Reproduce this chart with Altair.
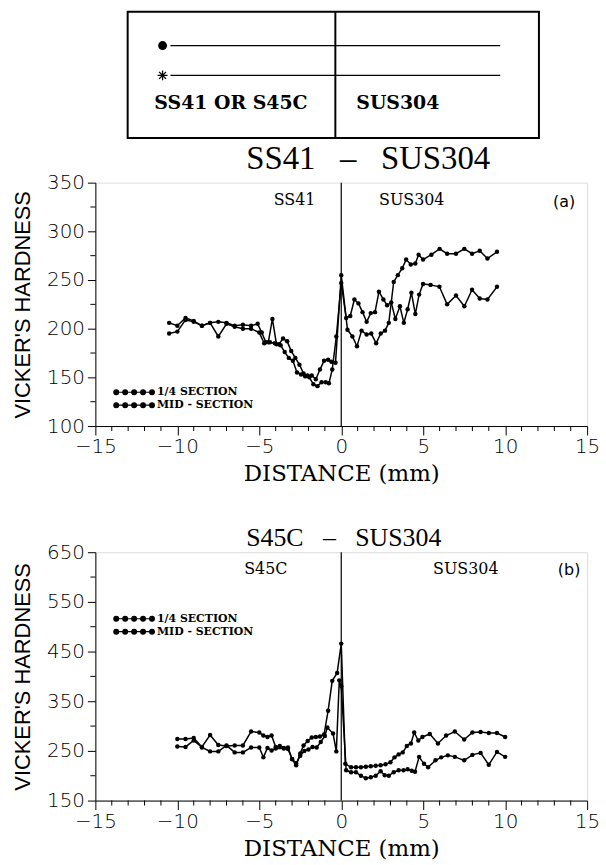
import altair as alt
import pandas as pd

SERIES = ["1/4 SECTION", "MID - SECTION"]

# ---------------- panel (a): SS41 - SUS304 ----------------
a_quarter_x = [-10.5, -10.0, -9.5, -9.0, -8.5, -8.0, -7.5, -7.0, -6.5, -6.0, -5.5, -5.1,
               -4.85, -4.6, -4.35, -4.05, -3.8, -3.55, -3.3, -3.05, -2.8, -2.55, -2.3,
               -2.05, -1.8, -1.55, -1.3, -1.05, -0.8, -0.6, -0.35, 0.0,
               0.38, 0.68, 0.96, 1.24, 1.55, 1.83, 2.13, 2.41, 2.67, 2.9, 3.2, 3.45,
               3.72, 3.96, 4.24, 4.52, 4.72, 4.99, 5.5, 6.0, 6.46, 7.0, 7.51, 7.98,
               8.45, 8.92, 9.5]
a_quarter_y = [206, 203, 211, 208, 203, 206, 207, 206, 203, 204, 203, 205,
               196, 186, 186, 185, 184, 190, 187, 177, 170, 163, 154,
               152, 152, 148, 158, 167, 168, 166, 165, 255,
               199, 192, 182, 198, 194, 195, 185, 195, 198, 206, 248, 255,
               262, 271, 266, 267, 276, 271, 276, 282, 277, 277, 282, 277,
               280, 272, 279]
a_mid_x = [-10.5, -10.0, -9.5, -9.0, -8.5, -8.0, -7.5, -7.0, -6.5, -6.0, -5.5, -5.0,
           -4.7, -4.45, -4.2, -3.95, -3.7, -3.45, -3.2, -2.95, -2.7, -2.45, -2.2,
           -1.95, -1.7, -1.45, -1.2, -0.95, -0.75, -0.55, -0.3, 0.0,
           0.3, 0.55, 0.8, 1.05, 1.3, 1.55, 1.8, 2.06, 2.3, 2.57, 2.8, 3.05,
           3.3, 3.58, 3.82, 4.05, 4.28, 4.52, 4.75, 4.99, 5.45, 5.99, 6.46, 7.0,
           7.51, 7.98, 8.45, 8.92, 9.5]
a_mid_y = [195, 197, 209, 207, 203, 206, 192, 205, 202, 200, 200, 196,
           185, 186, 210, 184, 183, 176, 170, 167, 155, 153, 151,
           150, 143, 141, 145, 145, 144, 158, 192, 247,
           211, 213, 230, 226, 217, 207, 216, 217, 238, 230, 224, 227,
           210, 223, 206, 220, 237, 215, 235, 246, 245, 243, 225, 234,
           223, 240, 231, 230, 243]

# ---------------- panel (b): S45C - SUS304 ----------------
b_quarter_x = [-10.0, -9.5, -9.0, -8.5, -8.0, -7.5, -7.0, -6.5, -6.0, -5.5, -5.0, -4.75,
               -4.5, -4.25, -4.0, -3.75, -3.5, -3.25, -3.0, -2.75, -2.5, -2.3, -2.05, -1.8,
               -1.55, -1.3, -1.05, -0.8, -0.55, -0.25, 0.0,
               0.25, 0.6, 0.9, 1.2, 1.5, 1.8, 2.1, 2.4, 2.7, 3.0, 3.25, 3.5,
               3.75, 4.0, 4.25, 4.45, 4.7, 4.95, 5.4, 5.9, 6.4, 6.93, 7.5, 8.0,
               8.5, 9.0, 9.5, 10.0]
b_quarter_y = [274, 274, 276, 258, 282, 262, 260, 261, 261, 289, 287, 281,
               278, 281, 258, 260, 256, 257, 233, 221, 245, 261, 270, 277,
               278, 279, 283, 331, 391, 407, 466,
               224, 217, 217, 217, 218, 219, 220, 221, 223, 227, 237, 243,
               247, 260, 265, 287, 271, 278, 284, 265, 281, 289, 273, 287,
               288, 286, 286, 278]
b_mid_x = [-10.0, -9.5, -9.0, -8.5, -8.0, -7.5, -7.0, -6.5, -6.0, -5.5, -5.0, -4.75,
           -4.5, -4.25, -4.0, -3.5, -3.25, -3.0, -2.75, -2.5, -2.25, -2.0, -1.75, -1.5,
           -1.25, -1.0, -0.85, -0.5, -0.3, -0.12, 0.0,
           0.3, 0.6, 0.9, 1.2, 1.5, 1.8, 2.1, 2.4, 2.65, 2.9, 3.2, 3.5,
           3.8, 4.05, 4.3, 4.5, 4.75, 5.05, 5.3, 5.75, 6.1, 6.5, 6.93, 7.5,
           8.0, 8.5, 9.0, 9.5, 10.0]
b_mid_y = [259, 258, 271, 257, 249, 249, 261, 247, 247, 257, 257, 237,
           256, 251, 255, 255, 254, 234, 225, 240, 250, 253, 258, 257,
           268, 280, 297, 285, 249, 392, 380,
           211, 207, 207, 200, 195, 197, 200, 209, 201, 200, 207, 211,
           211, 213, 210, 208, 238, 224, 217, 231, 237, 241, 238, 231,
           242, 246, 222, 248, 238]

# ticks
x_major = list(range(-15, 16, 5))
x_minor = [v for v in range(-15, 16) if v % 5 != 0]
a_y_major = list(range(100, 351, 50))
a_y_minor = list(range(125, 350, 50))
b_y_major = list(range(150, 651, 100))
b_y_minor = list(range(200, 651, 100))

# in-panel annotations
a_note_text = ["SS41", "SUS304"]
a_note_x = [-2.85, 4.3]
a_note_y = [332, 332]
b_note_text = ["S45C", "SUS304"]
b_note_x = [-4.6, 7.6]
b_note_y = [617, 617]
tag_text = ["(a)", "(b)"]
tag_x = [13.6, 13.9]
tag_y = [330, 615]

# titles (wide gaps kept with en-space + no-break space)
GAP = "\u2002\u00a0"
a_title = f"SS41{GAP}\u2013{GAP[::-1]}SUS304"
b_title = f"S45C{GAP}\u2013{GAP[::-1]}SUS304"

# schematic (specimen sketch) labels
sketch_text = ["SS41 OR S45C", "SUS304"]

# ---------------- helpers ----------------
SANS = "DejaVu Sans"
SERIF = "Liberation Serif"


def dotted_path():
    r = 0.4
    p = "M-1,0L5,0"
    for c in [-1, 0.5, 2, 3.5, 5]:
        p += f"M{c - r},0A{r},{r} 0 1,0 {c + r},0A{r},{r} 0 1,0 {c - r},0Z"
    return p


def series_frame(qx, qy, mx, my):
    d1 = pd.DataFrame({"x": qx, "y": qy, "s": SERIES[0]})
    d2 = pd.DataFrame({"x": mx, "y": my, "s": SERIES[1]})
    return pd.concat([d1, d2], ignore_index=True)


def panel(df, ydom, y_major, y_minor, title_text, title_size, title_dx, title_offset,
          notes, tag, legend_y, height):
    xs = alt.Scale(domain=[-15, 15], nice=False)
    ys = alt.Scale(domain=ydom, nice=False, zero=False)
    x_enc = alt.X(
        "x:Q", scale=xs,
        axis=alt.Axis(
            values=x_major, tickSize=9, labelFlush=False, labelOverlap=False, grid=False,
            labelFont=SANS, labelFontSize=20, labelFontWeight=300, labelColor="black",
            labelPadding=2, domainColor="black", tickColor="black",
            title="DISTANCE (mm)", titleFont="DejaVu Serif", titleFontSize=23,
            titleFontWeight="normal", titleColor="black", titlePadding=6,
        ),
    )
    y_enc = alt.Y(
        "y:Q", scale=ys,
        axis=alt.Axis(
            values=y_major, tickSize=8, labelFlush=False, labelOverlap=False, grid=False,
            labelFont=SANS, labelFontSize=20, labelFontWeight=300, labelColor="black",
            labelPadding=3, domainColor="black", tickColor="black",
            title="VICKER'S HARDNESS", titleFont="Liberation Sans", titleFontSize=22,
            titleFontWeight="normal", titleColor="black", titlePadding=12,
        ),
    )
    lines = alt.Chart(df).mark_line(
        strokeWidth=1.5, point=alt.OverlayMarkDef(filled=True, size=20)
    ).encode(
        x=x_enc,
        y=y_enc,
        color=alt.Color(
            "s:N",
            scale=alt.Scale(domain=SERIES, range=["black", "black"]),
            legend=alt.Legend(
                title=None, orient="none", legendX=20, legendY=legend_y,
                direction="vertical", symbolType=dotted_path(), symbolSize=144,
                symbolStrokeWidth=1.2, symbolFillColor="black", symbolStrokeColor="black",
                labelFont="DejaVu Serif", labelFontWeight="bold", labelFontSize=11,
                labelColor="black", labelOffset=28, rowPadding=1, padding=0,
            ),
        ),
    )
    # minor ticks (unlabelled) on both axes
    xm_df = pd.DataFrame({"x": x_minor, "y": [ydom[0]] * len(x_minor)})
    xminor = alt.Chart(xm_df).mark_tick(
        orient="vertical", size=5, thickness=1, color="black", yOffset=2.5, opacity=1
    ).encode(x=alt.X("x:Q", scale=xs), y=alt.Y("y:Q", scale=ys))
    ym_df = pd.DataFrame({"y": y_minor, "x": [-15] * len(y_minor)})
    yminor = alt.Chart(ym_df).mark_tick(
        orient="horizontal", size=5, thickness=1, color="black", xOffset=-2.5, opacity=1
    ).encode(x=alt.X("x:Q", scale=xs), y=alt.Y("y:Q", scale=ys))
    zero = alt.Chart(pd.DataFrame({"x": [0]})).mark_rule(
        color="black", strokeWidth=1.2
    ).encode(x="x:Q")
    note_df = pd.DataFrame({"x": notes[0], "y": notes[1], "t": notes[2]})
    note = alt.Chart(note_df).mark_text(
        font="DejaVu Serif", fontSize=16, color="black", baseline="middle"
    ).encode(x="x:Q", y="y:Q", text="t:N")
    tag_df = pd.DataFrame({"x": [tag[0]], "y": [tag[1]], "t": [tag[2]]})
    tagm = alt.Chart(tag_df).mark_text(
        font=SANS, fontSize=16, color="black", baseline="middle"
    ).encode(x="x:Q", y="y:Q", text="t:N")
    return alt.layer(lines, zero, xminor, yminor, note, tagm).properties(
        width=495, height=height,
        title=alt.TitleParams(
            title_text, font=SERIF, fontSize=title_size, fontWeight="normal",
            color="black", anchor="start", dx=title_dx, offset=title_offset,
        ),
    )


# ---------------- specimen sketch ----------------
# sketch units: x shares the [-15, 15] distance scale, y counts downward
frame_df = pd.DataFrame({"x": [-13.03], "x2": [12.06], "y": [0], "y2": [127]})
divider_df = pd.DataFrame({"x": [-0.36], "y": [0], "y2": [127]})
trace_df = pd.DataFrame({"x": [-10.42, -10.42], "x2": [9.7, 9.7], "y": [34, 64]})
mark_df = pd.DataFrame({"x": [-10.9, -10.9], "y": [34, 64], "k": ["dot", "star"]})
text_df = pd.DataFrame({"x": [-6.73, 3.45], "y": [92, 92], "t": sketch_text})

sx = alt.X("x:Q", scale=alt.Scale(domain=[-15, 15], nice=False), axis=None)
sy = alt.Y("y:Q", scale=alt.Scale(domain=[0, 45], reverse=True, nice=False, zero=False), axis=None)

frame = alt.Chart(frame_df).mark_rect(
    fill="white", fillOpacity=0, stroke="black", strokeWidth=2
).encode(x=sx, x2="x2:Q", y=sy, y2="y2:Q")
divider = alt.Chart(divider_df).mark_rule(color="black", strokeWidth=2).encode(
    x=sx, y=sy, y2="y2:Q")
traces = alt.Chart(trace_df).mark_rule(color="black", strokeWidth=1.3).encode(
    x=sx, x2="x2:Q", y=sy)
dot = alt.Chart(mark_df[mark_df.k == "dot"]).mark_point(
    shape="circle", filled=True, size=80, color="black", opacity=1).encode(x=sx, y=sy)
star = alt.Chart(mark_df[mark_df.k == "star"]).mark_point(
    shape="M-1,0L1,0M0,-1L0,1M-0.7,-0.7L0.7,0.7M-0.7,0.7L0.7,-0.7",
    filled=False, size=100, color="black", strokeWidth=1.3, opacity=1).encode(x=sx, y=sy)
stext = alt.Chart(text_df).mark_text(
    font="DejaVu Serif", fontWeight="bold", fontSize=19, color="black", baseline="middle"
).encode(x=sx, y=sy, text="t:N")

sketch = alt.layer(frame, divider, traces, dot, star, stext).properties(
    width=495, height=45, view=alt.ViewBackground(strokeOpacity=0)
)

pa = panel(series_frame(a_quarter_x, a_quarter_y, a_mid_x, a_mid_y),
           [100, 350], a_y_major, a_y_minor,
           a_title, 33, 236, -3,
           (a_note_x, a_note_y, a_note_text), (tag_x[0], tag_y[0], tag_text[0]),
           204, 245)
pb = panel(series_frame(b_quarter_x, b_quarter_y, b_mid_x, b_mid_y),
           [150, 650], b_y_major, b_y_minor,
           b_title, 26, 236, -9,
           (b_note_x, b_note_y, b_note_text), (tag_x[1], tag_y[1], tag_text[1]),
           60, 250)

chart = alt.vconcat(sketch, pa, pb, spacing=127, bounds="flush").resolve_scale(
    color="independent").resolve_legend(color="independent").properties(
    padding={"left": 11, "top": 8, "right": 5, "bottom": 2}
).configure_view(stroke="black", strokeWidth=1.3).configure(background="white")

chart.save("out.html", embed_options={"renderer": "svg", "actions": False})
